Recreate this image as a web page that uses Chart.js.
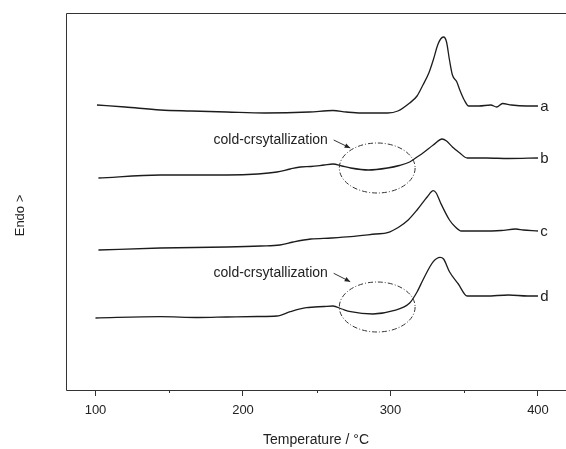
<!DOCTYPE html>
<html>
<head>
<meta charset="utf-8">
<script src="https://cdn.jsdelivr.net/npm/chart.js@4"></script>
<style>
  html, body { margin: 0; padding: 0; background: #fff; overflow: hidden; }
  #wrap { width: 566px; height: 449px; }
</style>
</head>
<body>
<div id="wrap"><canvas id="dscChart"></canvas></div>
<script>
// curve data (temperature in °C, heat flow in arbitrary units)
const tempA = [101,120,144,165,189,215,245,261,270,280,298,305,313,318,322,326,329,332,334,336,338,340,342,345,347,350,353,360,368,372,376,382,392,400];
const endoA = [285,283,280,279,278,277,278,279.5,278,277,277,279,287,294,305,317,330,345,351,353,348,330,315,308,300,290,284,284,285,283,286.5,285,284,284];

const tempB = [102,144,189,210,223,232,239,246,255,261,267,273,285,298,306,313,318,322,329,335,338,342,347,352,365,380,400];
const endoB = [212,215,215,216,218,221,223,223.5,225,226,224,222,220,222,224.5,228,233,237,245,251,249,243,237,232,232,231.5,232];

const tempC = [102,144,189,212,225,234,246,260,273,290,298,306,312,318,325,329,331,334,340,344,348,360,375,385,390,396,400];
const endoC = [140,142,143,144,145,148,151,152,153.3,156,157.3,163.3,170,180,193.3,199.3,197,187,170,163,159,159,159.5,161,160,159.3,159];

const tempD = [100,144,170,189,210,223,232,243,255,261,267,273,288,302,313,318,322,329,333.6,336,340,346,352,365,380,393,400];
const endoD = [72,73.3,72.5,73,73.5,74,78.3,82.3,83.5,84,81,78.3,76,79.3,87,98,110,128.3,132.7,131,118.3,106,94,94,95,94,94];

const curveNames = ['a', 'b', 'c', 'd'];
const xTicks = [100, 200, 300, 400];

// annotation: ellipse centres, text and arrow (data units)
const noteText = 'cold-crsytallization';
const ellipseT = [291, 291];
const ellipseY = [222, 83];
const noteY = [250, 116.7];
const arrowEndY = [242, 108.3];

function pts(xs, ys) {
  return xs.map((x, i) => ({ x: x, y: ys[i] }));
}

const lineCol = '#1c1c1c';
const fontFam = '"Liberation Sans", Arial, sans-serif';

const annotations = {
  id: 'annotations',
  afterDatasetsDraw(chart) {
    const c = chart.ctx;
    const xs = chart.scales.x;
    const ys = chart.scales.y;
    const area = chart.chartArea;
    c.save();
    // frame (right side falls outside the picture)
    c.strokeStyle = '#333';
    c.lineWidth = 1;
    c.beginPath();
    c.moveTo(area.right + 5, area.top + 0.5);
    c.lineTo(area.left + 0.5, area.top + 0.5);
    c.lineTo(area.left + 0.5, area.bottom + 0.5);
    c.lineTo(area.right + 5, area.bottom + 0.5);
    c.stroke();

    // minor ticks (shorter)
    [150, 250, 350].forEach(v => {
      const px = Math.round(xs.getPixelForValue(v)) + 0.5;
      c.beginPath();
      c.moveTo(px, area.bottom);
      c.lineTo(px, area.bottom + 3);
      c.stroke();
    });

    // y title
    c.fillStyle = '#222';
    c.font = '13px ' + fontFam;
    c.textAlign = 'center';
    c.textBaseline = 'middle';
    c.translate(20, (area.top + area.bottom) / 2 + 14);
    c.rotate(-Math.PI / 2);
    c.fillText('Endo >', 0, 0);
    c.setTransform(1, 0, 0, 1, 0, 0);

    // curve letters
    c.font = '15px ' + fontFam;
    c.textAlign = 'left';
    c.textBaseline = 'middle';
    const ends = [endoA, endoB, endoC, endoD];
    curveNames.forEach((n, i) => {
      const last = ends[i][ends[i].length - 1];
      c.fillText(n, xs.getPixelForValue(401.5), ys.getPixelForValue(last) + 1);
    });

    // ellipses + text + arrows
    for (let i = 0; i < ellipseT.length; i++) {
      const cx = xs.getPixelForValue(ellipseT[i]);
      const cy = ys.getPixelForValue(ellipseY[i]);
      const rx = xs.getPixelForValue(ellipseT[i] + 25.7) - cx;
      const ry = cy - ys.getPixelForValue(ellipseY[i] + 25);
      c.strokeStyle = '#333';
      c.lineWidth = 1;
      c.setLineDash([5, 2, 1, 2]);
      c.beginPath();
      c.ellipse(cx, cy, rx, ry, 0, 0, Math.PI * 2);
      c.stroke();
      c.setLineDash([]);

      c.font = '14px ' + fontFam;
      c.textAlign = 'left';
      c.fillStyle = '#222';
      c.fillText(noteText, xs.getPixelForValue(180), ys.getPixelForValue(noteY[i]));

      const x0 = xs.getPixelForValue(261.5), y0 = ys.getPixelForValue(noteY[i]);
      const x1 = xs.getPixelForValue(272.7), y1 = ys.getPixelForValue(arrowEndY[i]);
      c.beginPath();
      c.moveTo(x0, y0);
      c.lineTo(x1, y1);
      c.stroke();
      const ang = Math.atan2(y1 - y0, x1 - x0);
      c.beginPath();
      c.moveTo(x1, y1);
      c.lineTo(x1 - 6 * Math.cos(ang - 0.4), y1 - 6 * Math.sin(ang - 0.4));
      c.lineTo(x1 - 6 * Math.cos(ang + 0.4), y1 - 6 * Math.sin(ang + 0.4));
      c.closePath();
      c.fill();
    }
    c.restore();
  }
};

const ctx = document.getElementById('dscChart');
const series = [endoA, endoB, endoC, endoD];
const temps = [tempA, tempB, tempC, tempD];

new Chart(ctx, {
  type: 'line',
  data: {
    datasets: curveNames.map((n, i) => ({
      label: n,
      data: pts(temps[i], series[i]),
      borderColor: lineCol,
      borderWidth: 1.3,
      pointRadius: 0,
      cubicInterpolationMode: 'monotone',
      fill: false
    }))
  },
  options: {
    responsive: true,
    maintainAspectRatio: false,
    animation: false,
    layout: { padding: { top: 13, right: 0, left: 0, bottom: 0 } },
    plugins: { legend: { display: false }, tooltip: { enabled: false } },
    scales: {
      x: {
        type: 'linear',
        min: 80,
        max: 419,
        border: { display: false },
        grid: { drawOnChartArea: false, tickLength: 6, color: '#333' },
        afterBuildTicks: (s) => { s.ticks = xTicks.map(v => ({ value: v })); },
        ticks: {
          padding: 7,
          color: '#222',
          font: { size: 13, family: fontFam }
        },
        title: {
          display: true,
          text: 'Temperature / °C',
          color: '#222',
          padding: { top: 6, bottom: 0 },
          font: { size: 14, family: fontFam }
        },
        afterFit: (s) => { s.height = 59; }
      },
      y: {
        min: 0,
        max: 377,
        border: { display: false },
        grid: { display: false },
        ticks: { display: false },
        afterFit: (s) => { s.width = 66; }
      }
    }
  },
  plugins: [annotations]
});
</script>
</body>
</html>
